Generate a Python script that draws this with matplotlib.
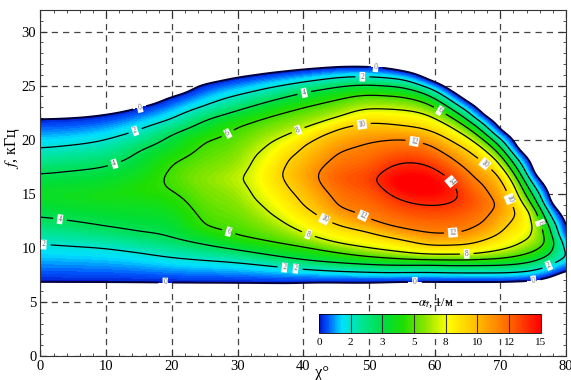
import numpy as np
import matplotlib
matplotlib.use("Agg")
import matplotlib.pyplot as plt
from matplotlib.colors import LinearSegmentedColormap, Normalize
from matplotlib.cm import ScalarMappable

plt.rcParams['font.family'] = ['Liberation Serif', 'DejaVu Serif']
plt.rcParams['mathtext.fontset'] = 'stix'

# contour levels of -alpha_i (1/m)
levels = [0, 2, 4, 6, 8, 10, 12, 14]
N = np.nan

col_x = [0, 5, 10, 15, 20, 25, 30, 32.5, 35, 37.5, 40, 42.5, 45, 50, 52.5, 55,
         60, 62.5, 65, 67.5, 70, 72.5, 75, 77.5, 80]

# f (kHz) of lower crossing for each level, per column
low_f = [
    [6.7, 10.4, 12.8, N, N, N, N, N],
    [6.7, 10.2, 12.4, N, N, N, N, N],
    [6.7, 10.0, 11.9, N, N, N, N, N],
    [6.7, 9.6, 11.4, N, N, N, N, N],
    [6.7, 9.15, 10.9, 15.3, N, N, N, N],
    [6.7, 8.9, 10.3, 11.9, N, N, N, N],
    [6.7, 8.7, 9.8, 11.0, N, N, N, N],
    [6.7, 8.55, 9.55, 10.75, 14.5, N, N, N],
    [6.7, 8.4, 9.3, 10.5, 13.1, N, N, N],
    [6.7, 8.25, 9.05, 10.3, 12.1, 15.6, N, N],
    [6.75, 8.1, 8.85, 10.1, 11.3, 13.8, N, N],
    [6.8, 8.0, 8.7, 9.85, 10.8, 12.9, 15.9, N],
    [6.8, 7.9, 8.6, 9.6, 10.4, 12.2, 13.8, N],
    [6.8, 7.8, 8.45, 9.2, 9.9, 11.5, 12.5, N],
    [6.85, 7.75, 8.4, 9.1, 9.7, 11.1, 12.0, 15.3],
    [6.9, 7.75, 8.4, 9.0, 9.5, 10.8, 11.7, 14.4],
    [6.9, 7.75, 8.45, 8.9, 9.3, 10.2, 11.2, 13.9],
    [6.9, 7.7, 8.4, 8.9, 9.3, 10.25, 11.25, 14.1],
    [6.9, 7.7, 8.4, 8.9, 9.3, 10.3, 11.4, N],
    [6.9, 7.7, 8.4, 8.95, 9.45, 10.7, 12.2, N],
    [6.9, 7.7, 8.4, 9.0, 9.7, 11.3, N, N],
    [6.95, 7.75, 8.5, 9.2, 10.1, N, N, N],
    [7.0, 7.9, 8.7, 9.6, 10.9, N, N, N],
    [7.3, 8.4, 9.3, N, N, N, N, N],
    [8.0, N, N, N, N, N, N, N],
]
# f (kHz) of upper crossing for each level, per column
up_f = [
    [22.0, 19.2, 16.9, N, N, N, N, N],
    [22.1, 19.5, 17.2, N, N, N, N, N],
    [22.4, 20.0, 17.6, N, N, N, N, N],
    [23.0, 20.9, 19.0, N, N, N, N, N],
    [24.0, 21.9, 20.5, 17.8, N, N, N, N],
    [25.2, 23.1, 21.8, 19.9, N, N, N, N],
    [25.8, 24.1, 22.7, 21.3, N, N, N, N],
    [26.0, 24.45, 23.15, 21.75, 18.6, N, N, N],
    [26.2, 24.8, 23.6, 22.2, 19.8, N, N, N],
    [26.35, 25.05, 24.0, 22.6, 20.4, 18.3, N, N],
    [26.5, 25.3, 24.4, 23.0, 21.0, 19.6, N, N],
    [26.6, 25.5, 24.65, 23.35, 21.5, 20.4, 17.3, N],
    [26.7, 25.7, 24.9, 23.7, 22.0, 21.0, 18.8, N],
    [26.7, 25.8, 25.1, 24.2, 22.9, 21.6, 19.8, N],
    [26.6, 25.7, 25.0, 24.1, 22.85, 21.5, 20.0, 17.3],
    [26.3, 25.6, 24.9, 24.0, 22.8, 21.3, 20.1, 17.9],
    [25.2, 24.6, 23.9, 23.1, 22.1, 20.7, 19.4, 17.4],
    [24.3, 23.6, 22.9, 22.15, 21.3, 19.9, 18.4, 16.4],
    [23.3, 22.6, 21.9, 21.2, 20.4, 19.1, 17.2, N],
    [22.0, 21.4, 20.7, 20.1, 19.3, 18.0, 15.9, N],
    [20.6, 20.0, 19.4, 18.8, 18.0, 16.8, N, N],
    [18.8, 18.1, 17.4, 16.7, 15.8, N, N, N],
    [16.4, 15.6, 14.9, 14.1, 13.3, N, N, N],
    [13.7, 12.8, 11.9, N, N, N, N, N],
    [10.6, N, N, N, N, N, N, N],
]
peak_v = [5.0, 5.2, 5.4, 5.7, 6.3, 7.2, 7.9, 8.4, 9.4, 10.35, 11.1, 12.2, 13.1,
          13.7, 14.6, 15.5, 15.4, 14.6, 13.7, 12.8, 11.9, 10.0, 8.7, 5.9, 1.7]
peak_f = [14.9, 14.8, 14.9, 15.5, 16.5, 16.4, 16.4, 16.5, 16.6, 16.9, 16.8, 16.6,
          16.5, 16.3, 16.3, 16.0, 15.6, 15.2, 14.5, 14.0, 14.0, 13.2, 12.0, 10.5, 9.2]

cbar_ticks = ['0', '2', '3', '5', '8', '10', '12', '15']

# build the field column by column from the read crossings
f_grid = np.linspace(0, 32, 1281)
cols = []
for i in range(len(col_x)):
    lo = [v for v in low_f[i] if not np.isnan(v)]
    up = [v for v in up_f[i] if not np.isnan(v)]
    fp = [lo[0] - 0.6] + lo + [peak_f[i]] + up[::-1] + [up[0] + 0.6]
    vp = [-1] + levels[:len(lo)] + [peak_v[i]] + levels[:len(up)][::-1] + [-1]
    cols.append(np.interp(f_grid, fp, vp))
cols = np.array(cols)

# cubic Hermite join between the columns
xc = np.array(col_x, float)
slope = np.gradient(cols, xc, axis=0)
x_grid = np.linspace(0, 80, 801)
k = np.clip(np.searchsorted(xc, x_grid, side='right') - 1, 0, len(xc) - 2)
h = (xc[k + 1] - xc[k])[:, None]
t = ((x_grid - xc[k]) / (xc[k + 1] - xc[k]))[:, None]
Z = ((2 * t**3 - 3 * t**2 + 1) * cols[k] + (t**3 - 2 * t**2 + t) * h * slope[k]
     + (-2 * t**3 + 3 * t**2) * cols[k + 1] + (t**3 - t**2) * h * slope[k + 1]).T


def soften(a, sigma, axis):
    # light gaussian smoothing to round the corners of the contours
    n = int(3 * sigma)
    g = np.exp(-0.5 * (np.arange(-n, n + 1) / sigma) ** 2)
    g /= g.sum()
    a = np.moveaxis(a, axis, -1)
    p = np.pad(a, [(0, 0), (n, n)], mode='edge')
    out = np.array([np.convolve(r, g, mode='valid') for r in p])
    return np.moveaxis(out, -1, axis)


Z = soften(Z, 14, 0)   # along f
Z = soften(Z, 14, 1)   # along chi

cmap = LinearSegmentedColormap.from_list('tec', [
    (0.00, (0.00, 0.08, 0.80)),
    (0.04, (0.00, 0.35, 1.00)),
    (0.10, (0.00, 0.88, 1.00)),
    (0.18, (0.00, 0.90, 0.62)),
    (0.30, (0.00, 0.87, 0.22)),
    (0.38, (0.12, 0.87, 0.00)),
    (0.48, (0.55, 0.90, 0.00)),
    (0.58, (1.00, 1.00, 0.00)),
    (0.72, (1.00, 0.72, 0.00)),
    (0.86, (1.00, 0.40, 0.00)),
    (1.00, (1.00, 0.00, 0.00)),
])
cmap.set_over((1.0, 0.0, 0.0))

fig = plt.figure(figsize=(5.71, 3.80), dpi=100)
ax = fig.add_axes([0.0709, 0.0632, 0.9203, 0.9105])

ax.contourf(x_grid, f_grid, Z, levels=np.linspace(0, 15, 91), cmap=cmap,
            extend='max', antialiased=False, zorder=1)
cs = ax.contour(x_grid, f_grid, Z, levels=levels,
                colors=['#00003a'] + ['k'] * 7,
                linewidths=[1.4] + [0.9] * 7, zorder=2)

lab_pos = [(0.5, 10.4), (3, 12.8), (11, 18.3), (14.7, 20.3), (15.1, 23.0),
           (19, 6.7), (28.5, 11.2), (28.5, 20.6), (39.1, 21.1), (38.9, 8.5),
           (37.1, 7.9), (40, 24.8), (49, 25.7), (51, 26.5), (48.9, 21.6),
           (57, 20.2), (43, 12.4), (40.8, 11.3), (48.9, 12.7), (62.6, 16.2),
           (62.8, 11.2), (64.9, 9.3), (57, 7.0), (60.8, 22.7), (68.1, 18.1),
           (71, 14.4), (76, 12.3), (77.3, 8.5), (75, 7.3)]
labs = ax.clabel(cs, manual=lab_pos, inline=True, fmt='%d', fontsize=5.5,
                 colors='#666666')
for tl in labs:
    tl.set_bbox(dict(facecolor='white', edgecolor='none', pad=0.6))

ax.set_xlim(0, 80)
ax.set_ylim(0, 32)
ax.set_xticks(np.arange(0, 81, 10))
ax.set_xticks(np.arange(0, 81, 2), minor=True)
ax.set_yticks(np.arange(0, 31, 5))
ax.set_yticks(np.arange(0, 33, 1), minor=True)
ax.tick_params(which='both', direction='in', top=True, right=True,
               labelsize=10.5, color='#333333', pad=3)
ax.tick_params(which='major', length=5)
ax.tick_params(which='minor', length=2.5)
ax.grid(True, which='major', linestyle=(0, (5, 4)), color='#444444', linewidth=0.9)
ax.set_axisbelow(True)
for s in ax.spines.values():
    s.set_color('#333333')

ax.set_xlabel('χ°', fontsize=12, labelpad=0, va='center')
ax.xaxis.set_label_coords(0.535, -0.05)
ax.set_ylabel('$f$, кГц', fontsize=11.5, labelpad=0)
ax.yaxis.set_label_coords(-0.035, 0.6)

# colorbar inside the plot
cax = fig.add_axes([0.5587, 0.1245, 0.3883, 0.049])
sm = ScalarMappable(norm=Normalize(0, 15), cmap=cmap)
cb = fig.colorbar(sm, cax=cax, orientation='horizontal')
tpos = np.linspace(0, 15, len(cbar_ticks))
cb.set_ticks(tpos)
cb.set_ticklabels(cbar_ticks)
cb.ax.tick_params(length=0, labelsize=8, pad=4)
for v in tpos[1:-1]:
    cb.ax.axvline(v, color='#333333', lw=0.8)
cb.outline.set_linewidth(0.6)
fig.text(0.757, 0.203, r'$-\alpha_i$, 1/м', ha='center', va='center', fontsize=9)

fig.savefig('out.png', dpi=100)
